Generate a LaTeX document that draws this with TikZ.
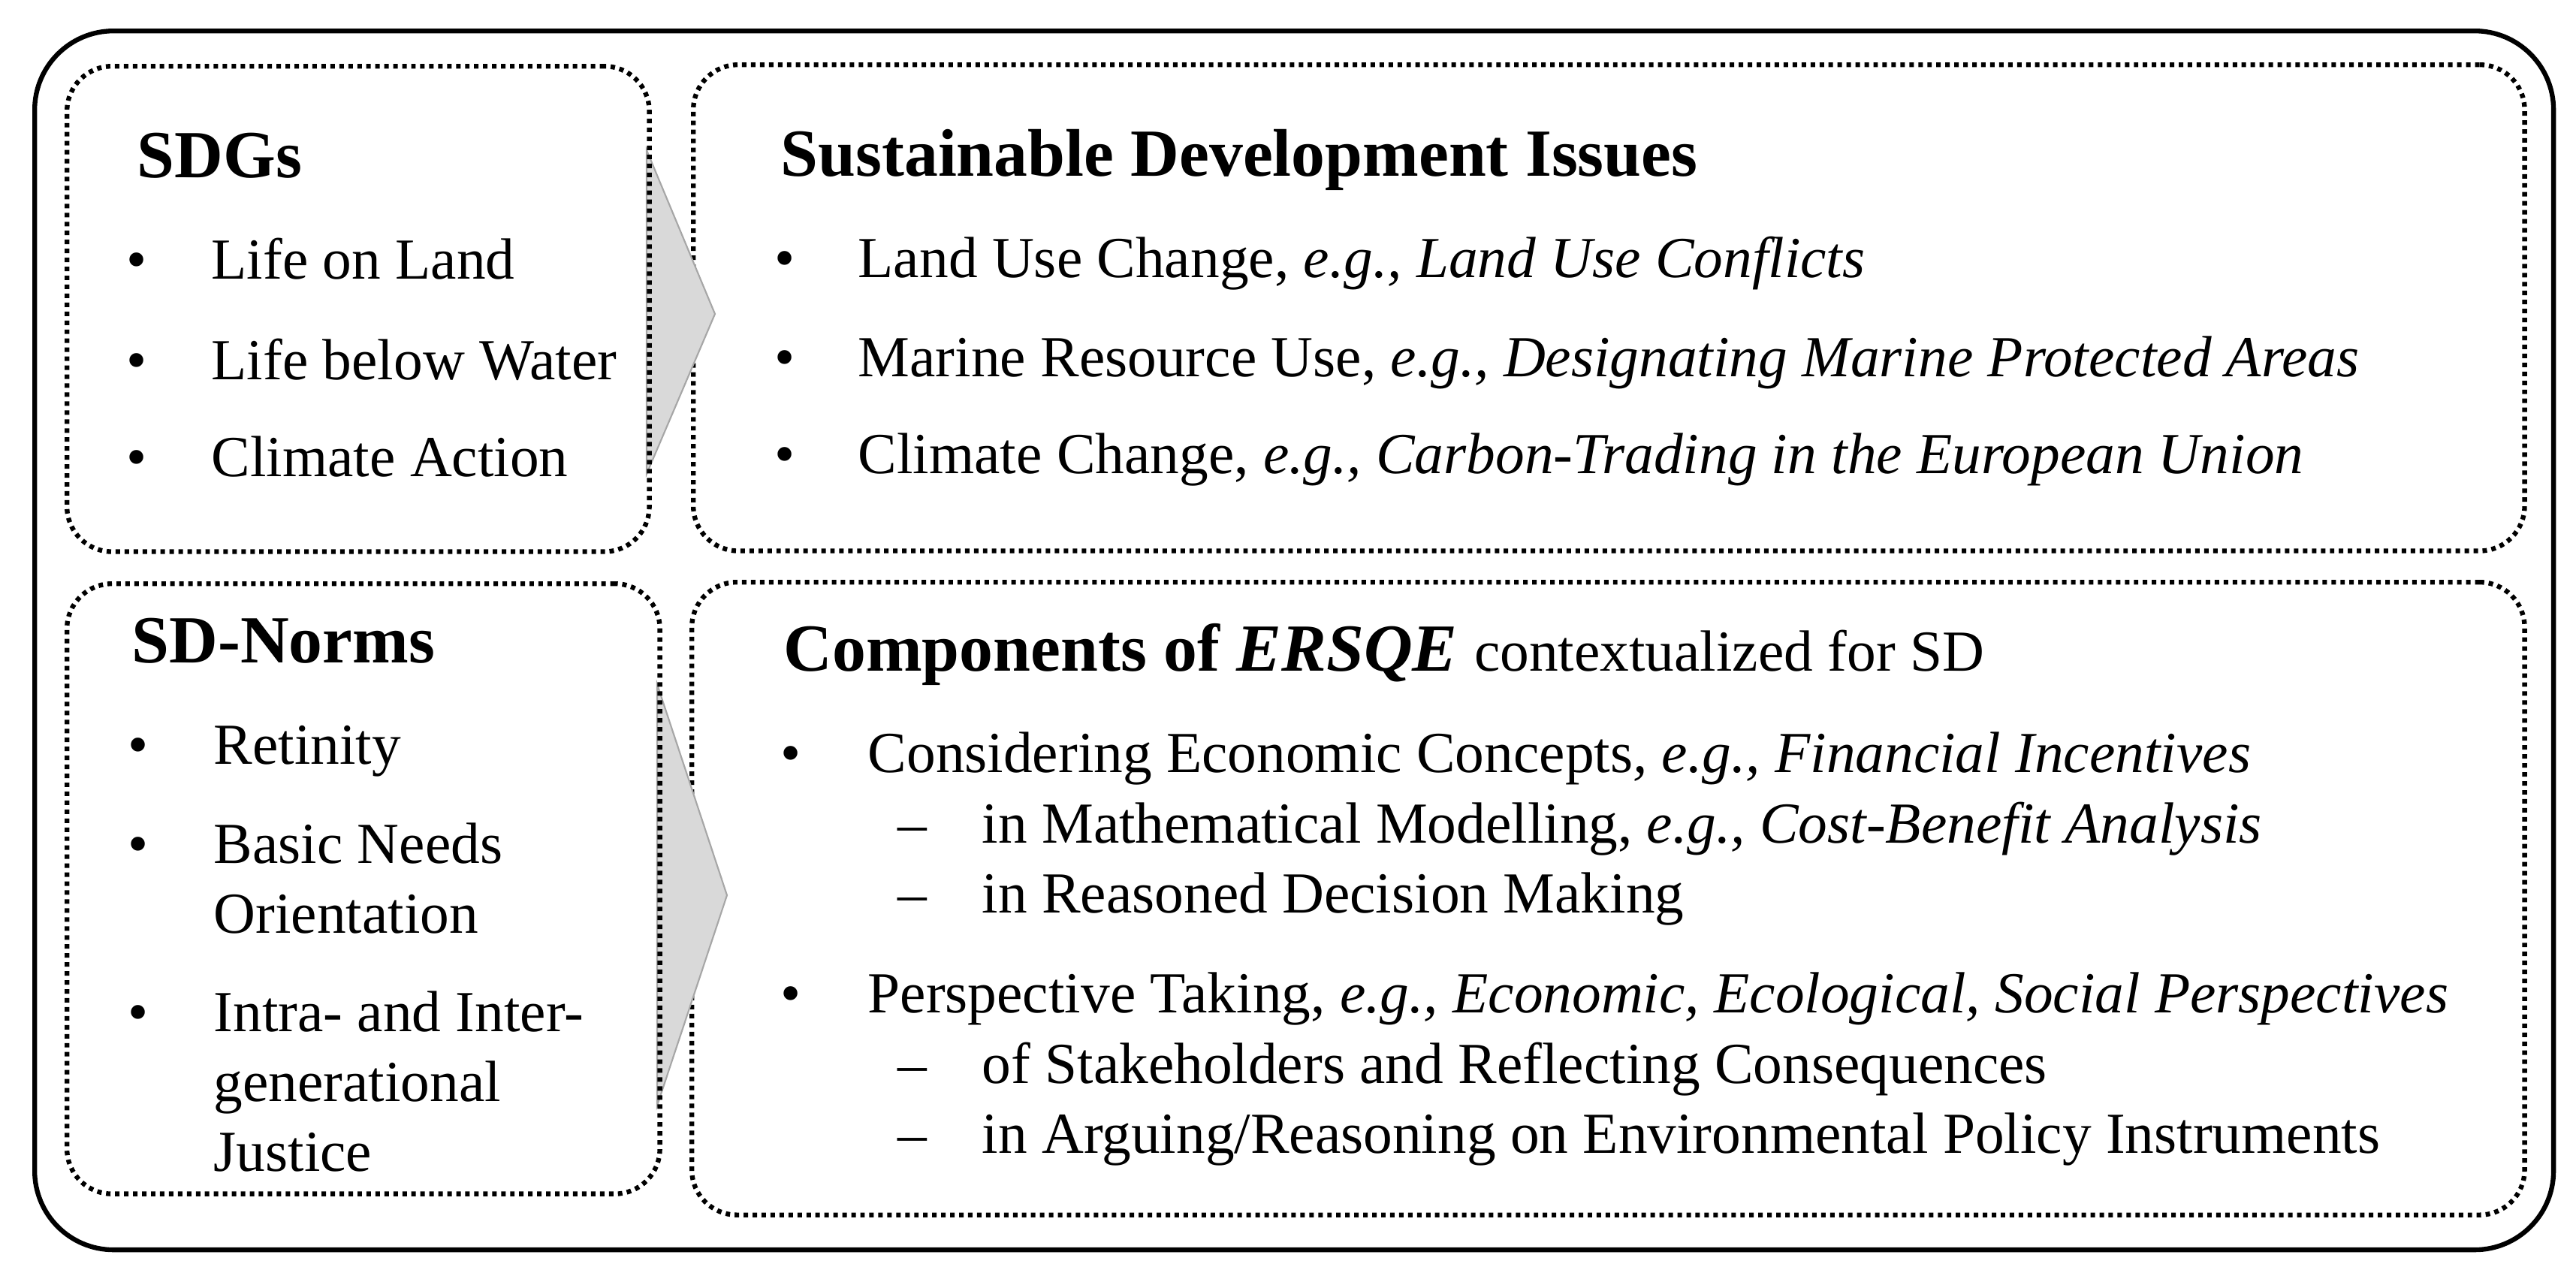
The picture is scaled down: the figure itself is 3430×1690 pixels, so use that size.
\documentclass[tikz,border=0pt]{standalone}
\usepackage{fontspec}
\setmainfont{Liberation Serif}
\usepackage{tikz}
\usetikzlibrary{calc}

\begin{document}
\begin{tikzpicture}[x=0.01cm,y=-0.01cm,
  outerbox/.style={draw,line width=1.8pt,rounded corners=1.05cm,inner sep=0pt,anchor=north west},
  dotbox/.style={draw,line width=1.8pt,dash pattern=on 1.7pt off 1.7pt,rounded corners=0.6cm,inner sep=0pt,anchor=north west},
  chev/.style={fill=gray!30,draw=gray!70,line width=0.6pt},
  txt/.style={anchor=base west,inner sep=0pt,font=\fontsize{22pt}{26.4pt}\selectfont},
  head/.style={anchor=base west,inner sep=0pt,font=\fontsize{25.5pt}{30pt}\selectfont\bfseries}]
\useasboundingbox (0,0) rectangle (3430,1690);
\node[outerbox,minimum width=33.52cm,minimum height=16.22cm] (ALL) at (43,38) {};
% right hand boxes first, the chevrons lie over them
\node[dotbox,minimum width=24.37cm,minimum height=6.47cm] (SDI) at (920,83) {};
\node[dotbox,minimum width=24.39cm,minimum height=8.42cm] (CMP) at (918,772) {};
\filldraw[chev] ($(SDI.north west)+(-59,117)$) -- ($(SDI.north west)+(32,335)$) -- ($(SDI.north west)+(-59,548)$) -- cycle;
\filldraw[chev] ($(CMP.north west)+(-43,139)$) -- ($(CMP.north west)+(50,420)$) -- ($(CMP.north west)+(-43,700)$) -- cycle;
\node[dotbox,minimum width=7.75cm,minimum height=6.46cm] (SDG) at (86,85) {};
\node[dotbox,minimum width=7.89cm,minimum height=8.12cm] (NRM) at (86,774) {};

% SDGs
\node[head] (SDGh) at (182,236) {SDGs};
\node[txt] at (168,371) {\textbullet};
\node[txt] (SDG1) at (281,371) {Life on Land};
\node[txt] at (168,505) {\textbullet};
\node[txt] (SDG2) at (281,505) {Life below Water};
\node[txt] at (168,634) {\textbullet};
\node[txt] (SDG3) at (281,634) {Climate Action};

% SD-Norms
\node[head] (NRMh) at (175,882) {SD-Norms};
\node[txt] at (170,1017) {\textbullet};
\node[txt] (NRM1) at (284,1017) {Retinity};
\node[txt] at (170,1149) {\textbullet};
\node[txt] (NRM2) at (284,1149) {Basic Needs};
\node[txt] (NRM2b) at (284,1242) {Orientation};
\node[txt] at (170,1373) {\textbullet};
\node[txt] (NRM3) at (284,1373) {Intra- and Inter-};
\node[txt] (NRM3b) at (284,1466) {generational};
\node[txt] (NRM3c) at (284,1559) {Justice};

% Sustainable Development Issues
\node[head] (SDIh) at (1039,234) {Sustainable Development Issues};
\node[txt] at (1031,369) {\textbullet};
\node[txt] (SDI1) at (1142,369) {Land Use Change, \textit{e.g., Land Use Conflicts}};
\node[txt] at (1031,501) {\textbullet};
\node[txt] (SDI2) at (1142,501) {Marine Resource Use, \textit{e.g., Designating Marine Protected Areas}};
\node[txt] at (1031,630) {\textbullet};
\node[txt] (SDI3) at (1142,630) {Climate Change, \textit{e.g., Carbon-Trading in the European Union}};

% Components of ERSQE
\node[head] (CMPh) at (1043,893) {Components of \textit{ERSQE} \mdseries\fontsize{22pt}{26.4pt}\selectfont contextualized for SD};
\node[txt] at (1039,1028) {\textbullet};
\node[txt] (CMP1) at (1155,1028) {Considering Economic Concepts\textit{, e.g., Financial Incentives}};
\node[txt] at (1195,1122) {--};
\node[txt] (CMP11) at (1307,1122) {in Mathematical Modelling, \textit{e.g., Cost-Benefit Analysis}};
\node[txt] at (1195,1215) {--};
\node[txt] (CMP12) at (1307,1215) {in Reasoned Decision Making};
\node[txt] at (1039,1348) {\textbullet};
\node[txt] (CMP2) at (1155,1348) {Perspective Taking, \textit{e.g., Economic, Ecological, Social Perspectives}};
\node[txt] at (1195,1442) {--};
\node[txt] (CMP21) at (1307,1442) {of Stakeholders and Reflecting Consequences};
\node[txt] at (1195,1535) {--};
\node[txt] (CMP22) at (1307,1535) {in Arguing/Reasoning on Environmental Policy Instruments};
\end{tikzpicture}
\end{document}
